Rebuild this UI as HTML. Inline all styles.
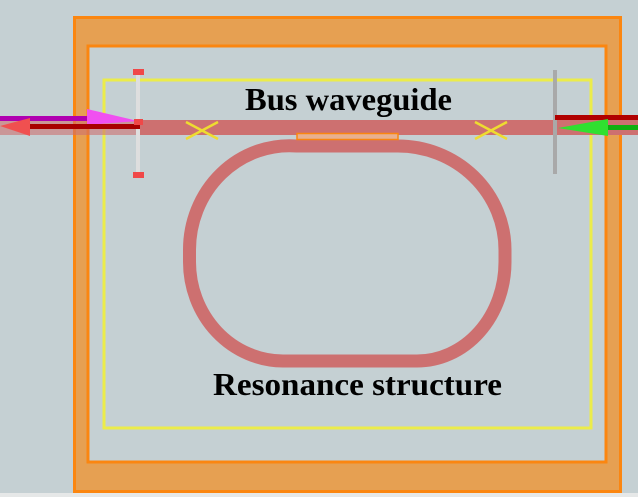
<!DOCTYPE html>
<html><head><style>
html,body{margin:0;padding:0;background:#c5d0d3;}
svg{display:block;}
</style></head><body>
<svg width="638" height="497" viewBox="0 0 638 497" xmlns="http://www.w3.org/2000/svg">
<rect x="0" y="0" width="638" height="497" fill="#c5d0d3"/>
<rect x="0" y="493" width="638" height="4" fill="#e6e8e8"/>
<!-- outer orange frame -->
<rect x="74.5" y="17.5" width="546" height="474" fill="#e6a052" stroke="#fb8610" stroke-width="3"/>
<rect x="88" y="46" width="518" height="416" fill="#c5d0d3" stroke="#fb8610" stroke-width="3"/>
<!-- yellow rect -->
<rect x="104" y="80" width="487" height="348" fill="none" stroke="#ecec4a" stroke-width="3"/>
<!-- ring -->
<path d="M297,146 L398,146 A107,104 0 0 1 505,250 L505,262 A88,99 0 0 1 417,361 L283,361 A94,99 0 0 1 189.5,262 L189.5,250 A100,104 0 0 1 297,146 Z" fill="none" stroke="#cd7070" stroke-width="13"/>
<!-- bus waveguide -->
<rect x="137" y="120" width="418" height="15" fill="#cd7070"/>
<rect x="556" y="120" width="82" height="15" fill="#cd7070"/>
<rect x="0" y="120" width="137" height="15" fill="#cd7070" opacity="0.6"/>
<!-- coupler -->
<rect x="297" y="133.5" width="101" height="6" fill="#e8b090" stroke="#fb8610" stroke-width="1.5"/>
<!-- crosses -->
<g stroke="#eedc30" stroke-width="2.5">
<line x1="186" y1="122" x2="218" y2="139"/><line x1="186" y1="139" x2="218" y2="122"/>
<line x1="475" y1="122" x2="507" y2="139"/><line x1="475" y1="139" x2="507" y2="122"/>
</g>
<!-- left monitor -->
<rect x="136" y="75" width="4" height="98" fill="#dedede"/>
<rect x="133" y="69" width="11" height="6" fill="#f04848"/>
<rect x="133" y="172" width="11" height="6" fill="#f04848"/>
<!-- right bar -->
<rect x="553" y="70" width="4" height="104" fill="#a9a9a9"/>
<!-- left arrows -->
<rect x="0" y="116" width="90" height="5" fill="#b000b0"/>
<polygon points="87,109 87,125 138,121" fill="#f050f0"/>
<rect x="30" y="124" width="110" height="5" fill="#a80000"/>
<polygon points="0,126 30,118 30,136" fill="#f05050"/>
<rect x="134" y="119" width="9" height="6" fill="#f04848"/>
<!-- right arrows -->
<rect x="555" y="115" width="83" height="5" fill="#b00000"/>
<rect x="600" y="125" width="38" height="5" fill="#10b010"/>
<polygon points="558,128 608,119 608,136" fill="#30e030"/>
<!-- labels -->
<text x="245" y="110" textLength="207" lengthAdjust="spacingAndGlyphs" font-family="Liberation Serif, serif" font-weight="bold" font-size="32" fill="#000">Bus waveguide</text>
<text x="213" y="395" textLength="289" lengthAdjust="spacingAndGlyphs" font-family="Liberation Serif, serif" font-weight="bold" font-size="32" fill="#000">Resonance structure</text>
</svg>
</body></html>
